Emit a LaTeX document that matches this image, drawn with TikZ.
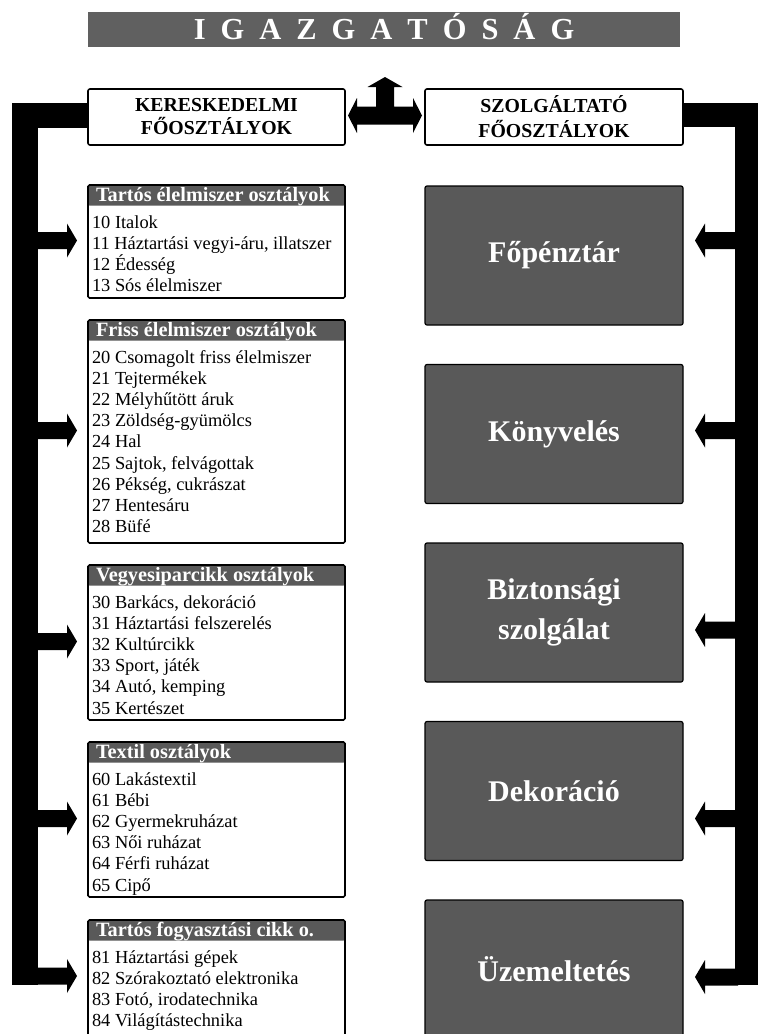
\documentclass[tikz,border=0pt]{standalone}
\usepackage{fontspec}
\setmainfont{Liberation Serif}
\usetikzlibrary{calc}
\definecolor{boxgray}{RGB}{89,89,89}
\definecolor{titlegray}{RGB}{96,96,96}
\newcommand\gp{\hspace{15pt}}
\newcommand\armL[1]{\fill (#1) -- ++(-10,-17) -- ++(0,8.5) -- ++(-33,0) -- ++(0,17) -- ++(33,0) -- ++(0,8.5) -- cycle;}
\newcommand\armR[1]{\fill (#1) -- ++(10,-17) -- ++(0,8.5) -- ++(33,0) -- ++(0,17) -- ++(-33,0) -- ++(0,8.5) -- cycle;}
\begin{document}
\begin{tikzpicture}[x=1pt,y=-1pt,
  every node/.style={inner sep=0pt, outer sep=0pt},
  titlebar/.style={fill=titlegray, minimum width=592, minimum height=35, text=white,
    font=\fontsize{30.5}{30}\selectfont\bfseries, text height=20, text depth=0},
  whitebox/.style={draw, line width=1.6pt, rounded corners=2pt, fill=white,
    minimum height=56, align=center, font=\fontsize{19.8}{25}\selectfont\bfseries},
  graybox/.style={draw, line width=1.2pt, fill=boxgray, rounded corners=2pt,
    minimum width=258, minimum height=139, text=white, align=center,
    font=\fontsize{30}{40}\selectfont\bfseries, anchor=north west},
  listbox/.style={draw, line width=1.6pt, rounded corners=1.5pt, minimum width=257,
    anchor=north west, fill=white,
    path picture={\fill[boxgray] (path picture bounding box.north west) rectangle
      ([yshift=-20.5pt]path picture bounding box.north east);}},
  hdrtext/.style={text=white, font=\fontsize{20.3}{20}\selectfont\bfseries, anchor=base west},
  item/.style={font=\fontsize{18.4}{21}\selectfont, anchor=base west}]
\useasboundingbox (0,0) rectangle (758,1034);

% title
\node[titlebar] (T) at (384,29.5) {I\gp G\gp A\gp Z\gp G\gp A\gp T\gp Ó\gp S\gp Á\gp G};

% main department boxes
\node[whitebox, minimum width=257] (K) at (216.5,117) {\raisebox{-2pt}{KERESKEDELMI}\\FŐOSZTÁLYOK};
\node[whitebox, minimum width=258] (S) at (554,117) {SZOLGÁLTATÓ\\FŐOSZTÁLYOK};

% central arrow
\coordinate (ml) at ($(K.east)+(3,-1.5)$);
\coordinate (mr) at ($(S.west)+(-3,-1.5)$);
\coordinate (mc) at ($(ml)!0.5!(mr)$);
\fill (ml) -- ++(9,-17.5) -- ++(0,8.5) -- ($(mc)+(-9,-9)$) -- ($(mc)+(-9,-28.5)$) -- ++(-8.5,0)
  -- ($(mc)+(0,-38.5)$) -- ($(mc)+(17.5,-28.5)$) -- ++(-8.5,0) -- ($(mc)+(9,-9)$)
  -- ($(mr)+(-9,-9)$) -- ++(0,-8.5) -- (mr) -- ++(-9,17.5) -- ++(0,-8.5)
  -- ($(ml)+(9,9)$) -- ++(0,8.5) -- cycle;

% left list boxes
\node[listbox, minimum height=113] (L1) at (88,185) {};
\node[hdrtext] (L1h) at ($(L1.north west)+(8,16.5)$) {Tartós élelmiszer osztályok};
\foreach \t [count=\k from 0] in {10 Italok, {11 Háztartási vegyi-áru, illatszer}, 12 Édesség, 13 Sós élelmiszer}
  \node[item] (L1i\k) at ($(L1.north west)+(4,{43+21.2*\k})$) {\t};

\node[listbox, minimum height=223] (L2) at (88,320) {};
\node[hdrtext] (L2h) at ($(L2.north west)+(8,16.5)$) {Friss élelmiszer osztályok};
\foreach \t [count=\k from 0] in {20 Csomagolt friss élelmiszer, 21 Tejtermékek, 22 Mélyhűtött áruk, 23 Zöldség-gyümölcs, 24 Hal, {25 Sajtok, felvágottak}, {26 Pékség, cukrászat}, 27 Hentesáru, 28 Büfé}
  \node[item] (L2i\k) at ($(L2.north west)+(4,{43+21.2*\k})$) {\t};

\node[listbox, minimum height=155] (L3) at (88,565) {};
\node[hdrtext] (L3h) at ($(L3.north west)+(8,16.5)$) {Vegyesiparcikk osztályok};
\foreach \t [count=\k from 0] in {{30 Barkács, dekoráció}, 31 Háztartási felszerelés, 32 Kultúrcikk, {33 Sport, játék}, {34 Autó, kemping}, 35 Kertészet}
  \node[item] (L3i\k) at ($(L3.north west)+(4,{43+21.2*\k})$) {\t};

\node[listbox, minimum height=155] (L4) at (88,742) {};
\node[hdrtext] (L4h) at ($(L4.north west)+(8,16.5)$) {Textil osztályok};
\foreach \t [count=\k from 0] in {60 Lakástextil, 61 Bébi, 62 Gyermekruházat, 63 Női ruházat, 64 Férfi ruházat, 65 Cipő}
  \node[item] (L4i\k) at ($(L4.north west)+(4,{43+21.2*\k})$) {\t};

\node[listbox, minimum height=140] (L5) at (88,920) {};
\node[hdrtext] (L5h) at ($(L5.north west)+(8,16.5)$) {Tartós fogyasztási cikk o.};
\foreach \t [count=\k from 0] in {81 Háztartási gépek, 82 Szórakoztató elektronika, {83 Fotó, irodatechnika}, 84 Világítástechnika}
  \node[item] (L5i\k) at ($(L5.north west)+(4,{43+21.2*\k})$) {\t};

% right service boxes
\node[graybox] (R1) at (425,186) {Főpénztár};
\node[graybox] (R2) at (425,364.5) {Könyvelés};
\node[graybox] (R3) at (425,543) {Biztonsági\\szolgálat};
\node[graybox] (R4) at (425,721.5) {Dekoráció};
\node[graybox] (R5) at (425,900) {Üzemeltetés};

% left bracket
\fill (12,103) rectangle ($(K.west)+(0,11)$);
\fill (12,103) rectangle (38,985);
\armL{$(L1.west)+(-11,-1)$}
\armL{$(L2.west)+(-11,-1)$}
\armL{$(L3.west)+(-11,-1)$}
\armL{$(L4.west)+(-11,-1)$}
\armL{$(L5.north west)+(-11,56)$}

% right bracket
\fill ($(S.east)+(0,-14)$) rectangle (760,127);
\fill (735,103) rectangle (760,985);
\armR{$(R1.east |- L1.west)+(12,-1)$}
\armR{$(R2.east |- L2.west)+(12,-1)$}
\armR{$(R3.north east)+(12,87)$}
\armR{$(R4.east |- L4.west)+(12,-1)$}
\armR{$(R5.east |- L5.north west)+(12,57)$}
\end{tikzpicture}
\end{document}
